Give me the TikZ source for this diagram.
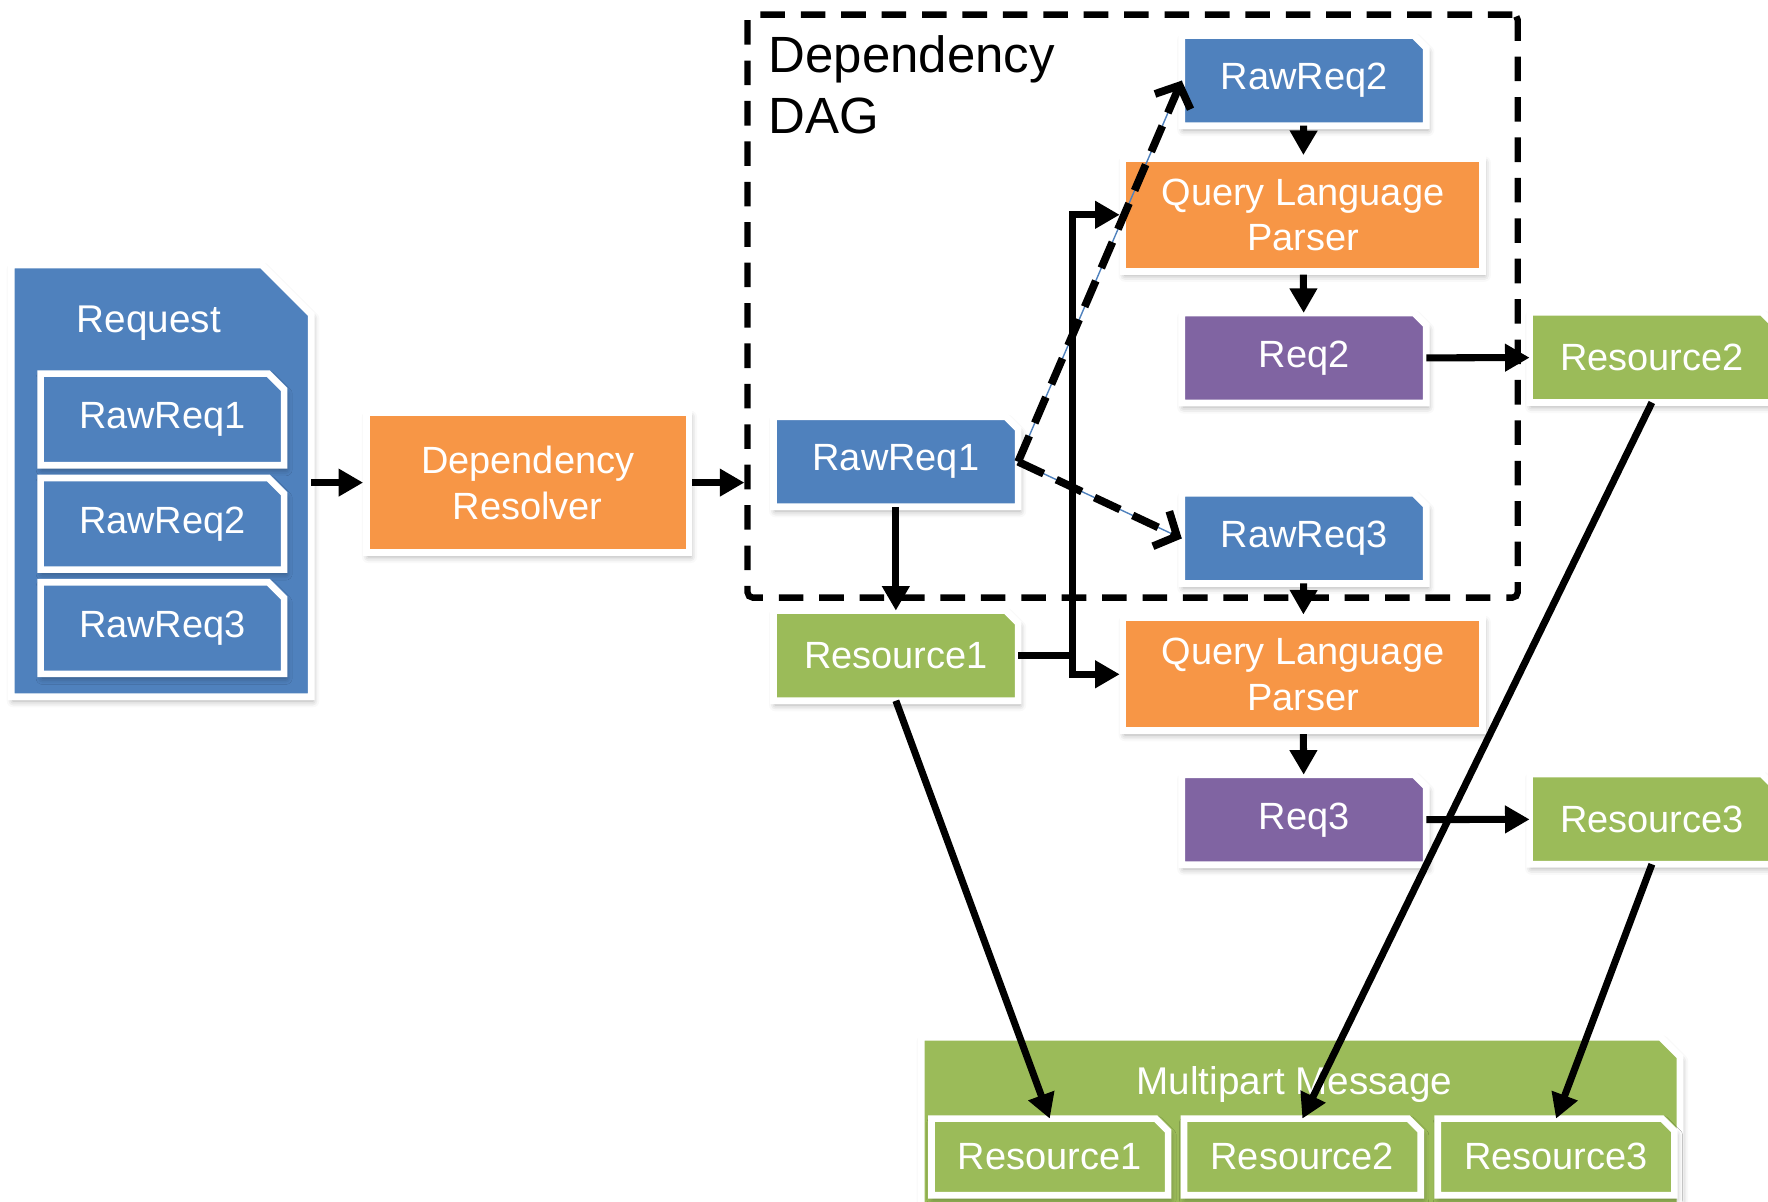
\documentclass[tikz,border=0pt]{standalone}
\usepackage{fontspec}
\setmainfont{Liberation Sans}
\usetikzlibrary{arrows.meta, shadows.blur}
\definecolor{cblue}{HTML}{4F81BD}
\definecolor{corange}{HTML}{F79646}
\definecolor{cpurple}{HTML}{8064A2}
\definecolor{cgreen}{HTML}{9BBB59}

% rectangle with its north east corner snipped off
\makeatletter
\pgfkeys{/pgf/snip size/.initial=3.5pt}
\pgfdeclareshape{snipped rectangle}{
  \inheritsavedanchors[from=rectangle]
  \inheritanchorborder[from=rectangle]
  \inheritanchor[from=rectangle]{center}
  \inheritanchor[from=rectangle]{text}
  \inheritanchor[from=rectangle]{base}
  \inheritanchor[from=rectangle]{mid}
  \inheritanchor[from=rectangle]{north}
  \inheritanchor[from=rectangle]{south}
  \inheritanchor[from=rectangle]{east}
  \inheritanchor[from=rectangle]{west}
  \inheritanchor[from=rectangle]{north east}
  \inheritanchor[from=rectangle]{north west}
  \inheritanchor[from=rectangle]{south east}
  \inheritanchor[from=rectangle]{south west}
  \backgroundpath{
    \southwest \edef\snipxa{\the\pgf@x}\edef\snipya{\the\pgf@y}
    \northeast \edef\snipxb{\the\pgf@x}\edef\snipyb{\the\pgf@y}
    \pgfmathsetlength\pgf@xc{\pgfkeysvalueof{/pgf/snip size}}
    \edef\snipc{\the\pgf@xc}
    \pgfpathmoveto{\pgfqpoint{\snipxa}{\snipya}}
    \pgfpathlineto{\pgfqpoint{\snipxa}{\snipyb}}
    \pgfpathlineto{\pgfpoint{\snipxb-\snipc}{\snipyb}}
    \pgfpathlineto{\pgfpoint{\snipxb}{\snipyb-\snipc}}
    \pgfpathlineto{\pgfqpoint{\snipxb}{\snipya}}
    \pgfpathclose
  }
}
\makeatother

\tikzset{
  every picture/.style={x=0.011276cm, y=-0.011276cm},
  box/.style={fill=#1, draw=white, line width=1.9pt, text=white, inner sep=0pt, align=center,
    font=\fontsize{10.8}{13}\selectfont,
    blur shadow={shadow xshift=0.5pt, shadow yshift=-1.2pt, shadow blur radius=1.8pt, shadow opacity=35}},
  box/.default=cblue,
  snip/.style={box=#1, snipped rectangle},
  sbox/.style={minimum width=2.379cm, minimum height=0.834cm},
  qbox/.style={minimum width=3.597cm, minimum height=1.128cm},
  title/.style={text=white, inner sep=0pt, font=\fontsize{11}{13}\selectfont},
  daglabel/.style={inner sep=0pt, align=left, font=\fontsize{14.5}{17.3}\selectfont},
  dagbox/.style={draw, line width=1.8pt, dash pattern=on 7pt off 4.5pt, rounded corners=1.5pt},
  arrow/.style={-{Triangle[length=7pt, width=7.5pt]}, line width=2pt},
  dasharrow/.style={-{Straight Barb[length=5pt, width=11pt]}, line width=2.2pt, dash pattern=on 8pt off 4pt,
    preaction={draw=cblue, line width=0.4pt, solid, -}},
}

\begin{document}
\begin{tikzpicture}
  \useasboundingbox (0,0) rectangle (1568,1066);
  \clip (0,0) rectangle (1568,1066);

  % incoming request
  \node[snip=cblue, minimum width=2.932cm, minimum height=4.251cm, snip size=14pt] (req) at (143,426.5) {};
  \node[title] (reqtitle) at (132,287) {Request};
  \foreach \y/\n in {372/1, 464.5/2, 557/3} {
    \node[snip=cblue, minimum width=2.368cm, minimum height=0.85cm, snip size=4.5pt] (in\n) at (144,\y) {RawReq\n};
  }
  \node[box=corange, minimum width=3.225cm, minimum height=1.398cm] (dr) at (468,428) {Dependency\\Resolver};

  % the DAG
  \node[dagbox, minimum width=7.702cm, minimum height=5.830cm] (dag) at (1004.5,271.5) {};
  \node[daglabel, anchor=north west] (dagtitle) at (681,31) {Dependency\\DAG};
  \node[snip=cblue, sbox] (r1) at (794.5,409.5) {RawReq1};
  \node[snip=cblue, sbox] (r2) at (1156.5,71.5) {RawReq2};
  \node[snip=cblue, sbox] (r3) at (1156.5,477.5) {RawReq3};
  \node[box=corange, qbox] (q1) at (1155.5,190.5) {Query Language\\Parser};
  \node[box=corange, qbox] (q2) at (1155.5,598) {Query Language\\Parser};
  \node[snip=cpurple, sbox] (p2) at (1156.5,317.5) {Req2};
  \node[snip=cpurple, sbox] (p3) at (1156.5,727) {Req3};
  \node[snip=cgreen, sbox] (s1) at (794.5,581.5) {Resource1};
  \node[snip=cgreen, sbox] (s2) at (1465,317) {Resource2};
  \node[snip=cgreen, sbox] (s3) at (1465,726.5) {Resource3};

  % response
  \node[snip=cgreen, minimum width=7.521cm, minimum height=1.737cm, snip size=5.5pt] (mm) at (1153.5,1000) {};
  \node[title] (mmtitle) at (1148,962) {Multipart Message};
  \foreach \x/\n in {931/1, 1155/2, 1380/3} {
    \node[snip=cgreen, minimum width=2.3cm, minimum height=0.699cm] (m\n) at (\x,1026) {Resource\n};
  }

  \draw[arrow] (req.east |- dr) -- (dr.west);
  \draw[arrow] (dr.east) -- (dr.east -| dag.west);
  \draw[dasharrow] (r1.east) -- (r2.west);
  \draw[dasharrow] (r1.east) -- (r3.west);
  \draw[arrow] (r1) -- (s1);
  \draw[arrow] (r2) -- (q1);
  \draw[arrow] (q1) -- (p2);
  \draw[arrow] (r3) -- (q2);
  \draw[arrow] (q2) -- (p3);
  \draw[arrow] (s1.east) -- ++(48,0) |- (q1.west);
  \draw[arrow] (s1.east) -- ++(48,0) |- (q2.west);
  \draw[arrow] (p2) -- (s2);
  \draw[arrow] (p3) -- (s3);
  \draw[arrow] (s1.south) -- (m1.north);
  \draw[arrow] (s2.south) -- (m2.north);
  \draw[arrow] (s3.south) -- (m3.north);
\end{tikzpicture}
\end{document}
